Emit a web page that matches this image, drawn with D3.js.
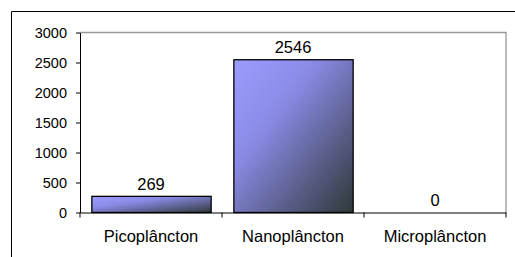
<!DOCTYPE html>
<html>
<head>
<meta charset="utf-8">
<script src="https://cdn.jsdelivr.net/npm/d3@7"></script>
<style>
  html, body { margin: 0; padding: 0; background: #fff; }
  svg { display: block; font-family: "Liberation Sans", Arial, sans-serif; }
</style>
</head>
<body>
<div id="chart"></div>
<script>
// dados
const categories = ['Picoplâncton', 'Nanoplâncton', 'Microplâncton'];
const values = [269, 2546, 0];
const yTicks = [0, 500, 1000, 1500, 2000, 2500, 3000];

const W = 515, H = 257;
const plot = { left: 80, right: 506, top: 32.5, bottom: 212.5 };
const FONT = '"Liberation Sans", Arial, sans-serif';

const svg = d3.select('#chart').append('svg').attr('width', W).attr('height', H);

// moldura externa (só os lados superior e esquerdo aparecem)
svg.append('path')
  .attr('d', `M11.5,${H} V11.5 H${W}`)
  .attr('fill', 'none').attr('stroke', '#000').attr('stroke-width', 1);

const grad = svg.append('defs').append('linearGradient')
  .attr('id', 'barFill').attr('x1', 0).attr('y1', 0).attr('x2', 1).attr('y2', 1);
grad.append('stop').attr('offset', 0).attr('stop-color', '#9c9cff');
grad.append('stop').attr('offset', 0.35).attr('stop-color', '#8a8ae6');
grad.append('stop').attr('offset', 1).attr('stop-color', '#2f3838');

const x = d3.scaleBand().domain(categories).range([plot.left, plot.right]).paddingInner(0.16).paddingOuter(0.08);
const xb = d3.scaleBand().domain(categories).range([plot.left, plot.right]);
const y = d3.scaleLinear().domain([0, 3000]).range([plot.bottom, plot.top]);

// borda cinza da área de plotagem
svg.append('path')
  .attr('d', `M${plot.left},${plot.top} H${plot.right} V${plot.bottom}`)
  .attr('fill', 'none').attr('stroke', '#999').attr('stroke-width', 1.3);

// barras
svg.selectAll('rect.bar').data(values).enter().append('rect')
  .attr('class', 'bar')
  .attr('x', (d, i) => x(categories[i]) + 0.5)
  .attr('y', (d) => y(d))
  .attr('width', x.bandwidth())
  .attr('height', (d) => plot.bottom - y(d))
  .attr('fill', 'url(#barFill)')
  .attr('stroke', (d) => d > 0 ? '#000' : 'none')
  .attr('stroke-width', 1.3);

// rótulos de valor
svg.selectAll('text.v').data(values).enter().append('text')
  .attr('class', 'v')
  .attr('x', (d, i) => xb(categories[i]) + xb.bandwidth() / 2)
  .attr('y', (d) => y(d) - 6.5)
  .attr('text-anchor', 'middle').attr('font-size', 16.5).attr('fill', '#000')
  .attr('font-family', FONT)
  .text((d) => d);

// eixo y
const yAxis = svg.append('g').attr('transform', `translate(${plot.left},0)`)
  .call(d3.axisLeft(y).tickValues(yTicks).tickFormat(d3.format('d')).tickSize(4).tickSizeOuter(0).tickPadding(9));
yAxis.select('.domain').attr('stroke', '#000');
yAxis.selectAll('.tick line').attr('stroke', '#000');
yAxis.selectAll('text').attr('font-size', 14.5).attr('fill', '#000').attr('font-family', FONT);

// eixo x
const xAxis = svg.append('g').attr('transform', `translate(0,${plot.bottom})`)
  .call(d3.axisBottom(xb).tickSize(0).tickPadding(18));
xAxis.select('.domain').attr('stroke', '#000');
xAxis.selectAll('text').attr('font-size', 16.5).attr('fill', '#000').attr('font-family', FONT);

// marcas entre categorias
const bounds = categories.map((c) => xb(c)).concat([plot.right]);
svg.selectAll('line.xt').data(bounds).enter().append('line')
  .attr('class', 'xt')
  .attr('x1', (d) => d).attr('x2', (d) => d)
  .attr('y1', plot.bottom).attr('y2', plot.bottom + 5)
  .attr('stroke', '#000');
</script>
</body>
</html>
